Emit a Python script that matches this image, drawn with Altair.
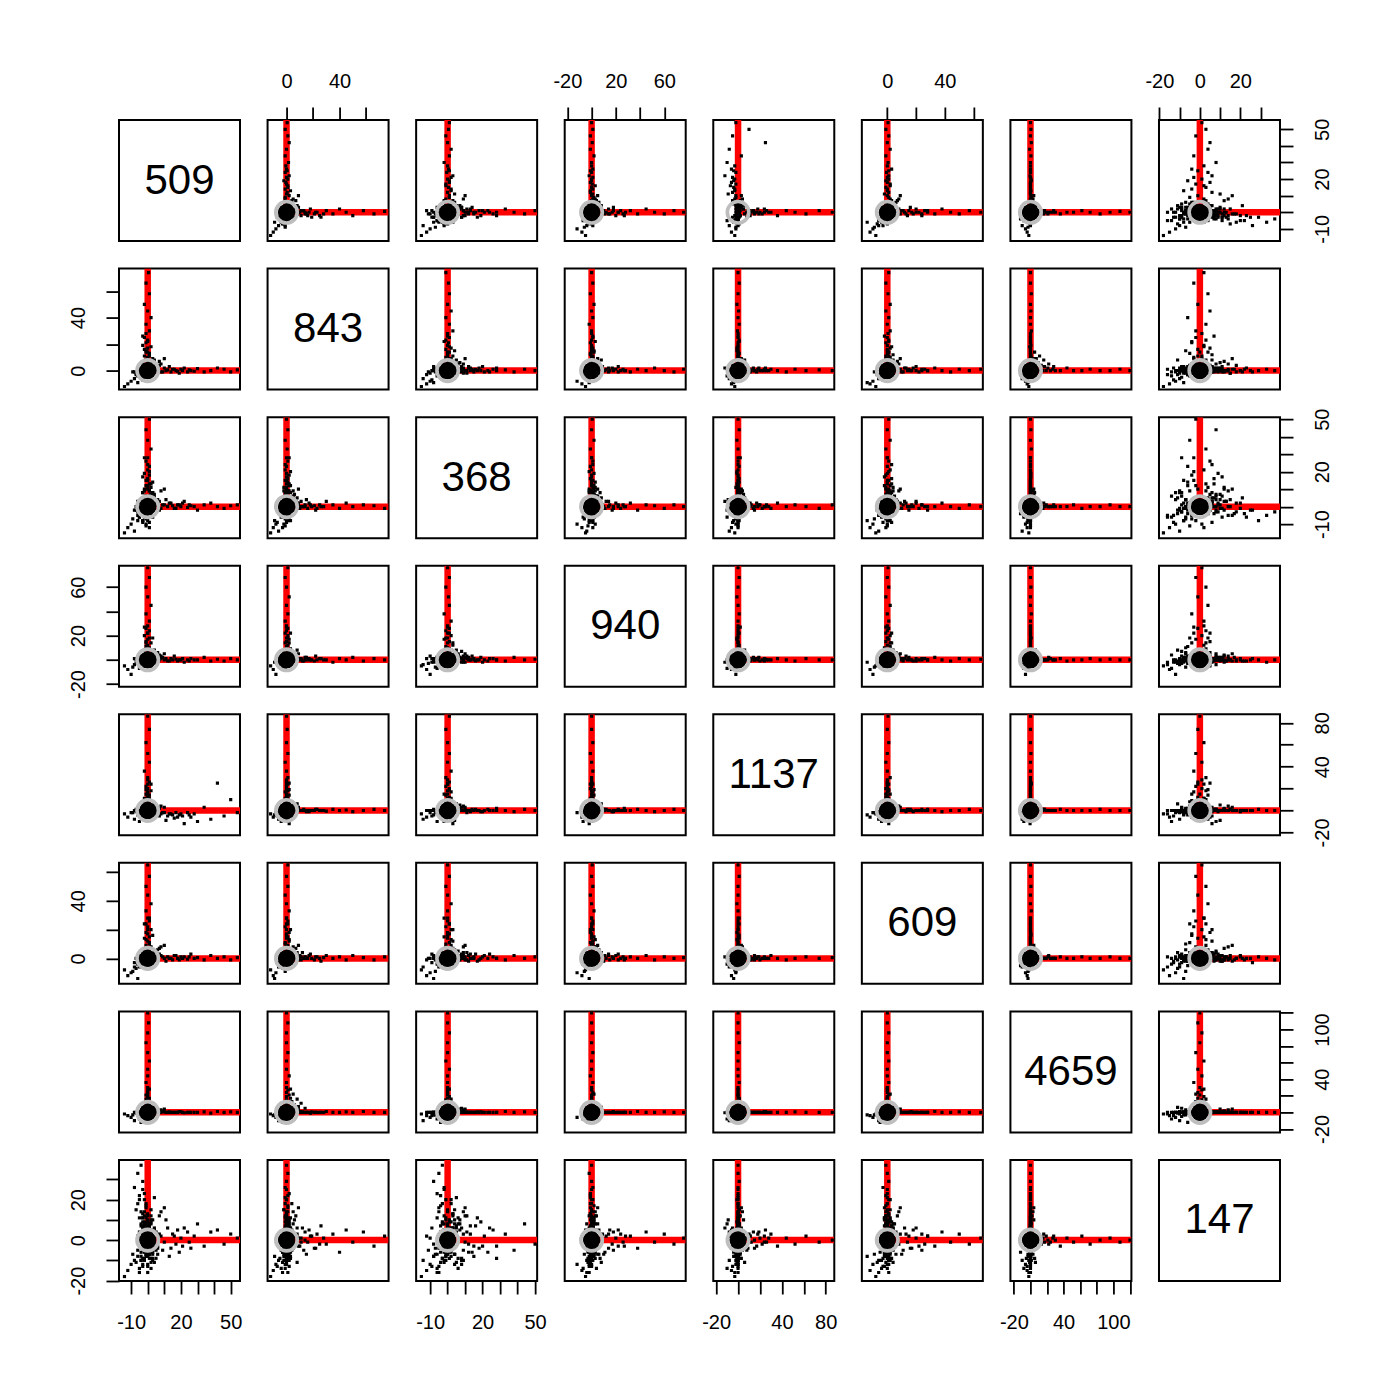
import altair as alt
import pandas as pd

# ---------------- data (observations: v1..v8) ----------------
V1_TAIL = [
    [54, 0.5, 1, 0, -2, 0.5, 0, 1],
    [50, -1, 0.5, 1, 10, -1, 0.5, 3],
    [46, 1, -1, -1, -5, 1, 0, -2],
    [42, 2, 0, 0.5, 25, 0, 1, 5],
    [38, 0, 2, -1, -8, 2, -1, 4],
    [34, -1, 1, 2, 3, -1, 0.5, -3],
    [30, 1.5, -2, 0, -10, 0.5, 0, 8],
    [26, 0, 0.5, 1, -6, 3, 0, -4],
    [22, 2, 3, -2, -12, 1, -0.5, 6],
    [19, -2, 1, 0, -4, -1, 1, -6],
    [16, 1, -1, 3, -7, 2, 0, 2],
    [13, 3, 2, -1, -3, 0, 0.5, -8],
    [11, 0, 4, 1, -9, -2, 0, 10],
    [9, -1, 1, 2, -2, 1, 1, -5],
    [7, 4, -2, 0, -5, 3, 0, 3],
]
V1_MID = [
    [28, -0.5, 0, 0, -3, 0, 0, 2],
    [25, 0.5, 1, -1, -4, 1, 0, -1],
    [24, -1, -0.5, 0, -2, -0.5, 0, 4],
    [21, 0, 2, 1, -5, 0, 0, -3],
    [20, 1, 0, 0, -3, 1, 0.5, 1],
    [18, -0.5, 1, -1, -6, 0, 0, 5],
    [17, 0, -1, 0.5, -2, 2, 0, -2],
    [15, 1, 0.5, 0, -4, -1, 0, 3],
    [14, -1, 2, 1, -3, 0, 0, -4],
    [12, 0.5, 0, -1, -5, 1, 0, 6],
    [10, 2, 1, 0, -2, 0, 0.5, -1],
    [8, -1, -1, 1, -3, 2, 0, 2],
    [6, 1, 2, 0, -1, -1, 0, -3],
    [5, 0, 1, 2, -4, 1, 0, 4],
    [4, 2, -1, -1, -2, 0, 0, -2],
]
V2_TAIL = [
    [0.5, 74, -1, 0, 0, 1, 0, 2],
    [-1, 66, 0.5, 1, 1, -1, 0, -3],
    [1, 58, 1, -1, 0, 0.5, 1, 4],
    [-2, 50, 0, 2, -1, 2, 0, -1],
    [0, 45, 2, 0, 0.5, -1, 0.5, 5],
    [2, 40, -1, 1, 0, 1, 0, -6],
    [-1, 35, 1, -2, 1, 0, 0, 3],
    [1, 30, 3, 0, -0.5, 2, 1, -2],
    [-3, 26, 0, 1, 0, -2, 0, 7],
    [0, 22, -2, 3, 1, 1, 0, -4],
    [2, 18, 1, 0, 0, 3, -1, 2],
    [-1, 15, 4, 2, -1, 0, 0, -7],
    [1, 12, 0, -1, 0, 4, 0.5, 6],
    [3, 9, 2, 1, 1, -1, 0, -3],
]
V2_MID = [
    [-1, 28, 0, 0, 0, 0.5, 0, 1],
    [-2, 25, 1, 1, 0, 0, 0, -2],
    [0, 23, -1, 0, 1, 1, 0, 3],
    [-1, 21, 0.5, -1, 0, -1, 0, -4],
    [-3, 19, 0, 0, 0, 0, 0.5, 2],
    [0, 17, 2, 1, -1, 2, 0, 5],
    [-2, 16, -1, 0, 0, 0, 0, -1],
    [-1, 14, 1, 2, 0, 1, 0, 4],
    [1, 13, 0, -1, 1, 0, 0, -5],
    [-2, 11, 3, 0, 0, -1, 0, 1],
    [0, 10, -1, 1, 0, 2, 1, -3],
    [-1, 8, 1, 0, -1, 0, 0, 6],
    [2, 7, 0, 3, 0, 1, 0, -2],
    [-3, 6, 2, -1, 0, 0, 0, 3],
    [0, 5, -2, 1, 1, 3, 0, -4],
]
V3_TAIL = [
    [1, 0, 50, 0.5, 0, 1, 0, -2],
    [-1, 1, 44, 0, 1, 0, 0.5, 8],
    [0, -1, 38, 2, -1, 2, 0, -5],
    [2, 0.5, 33, -1, 0, -1, 1, 3],
    [-2, 2, 28, 0, 2, 0, 0, -9],
    [0, -1, 24, 1, 0, 3, 0, 6],
    [1, 3, 20, -2, -1, 1, 0, -3],
    [-3, 0, 17, 0, 0, -2, 0.5, 11],
    [3, 1, 14, 3, 1, 0, 0, -6],
    [0, -2, 11, 1, -2, 4, 0, 4],
    [-2, 2, 9, -1, 0, 2, 1, -10],
    [2, 0, 7, 2, 1, -1, 0, 8],
]
V3_MID = [
    [0, 0, 28, 0, 0, 0, 0, -3],
    [-1, 1, 26, 1, 0, 1, 0, 5],
    [1, 0, 23, -1, 1, 0, 0, -6],
    [0, -1, 21, 0, 0, 2, 0, 2],
    [-2, 0, 19, 2, -1, 0, 0.5, 9],
    [1, 2, 18, 0, 0, -1, 0, -4],
    [0, 1, 16, -1, 1, 3, 0, 7],
    [-1, -1, 15, 1, 0, 1, 0, -8],
    [2, 0, 13, 0, -1, 0, 0, 3],
    [-1, 2, 12, 2, 0, 2, 0, -2],
    [0, 0, 10, -2, 1, -1, 0, 12],
    [1, -2, 9, 0, 0, 4, 0, -5],
    [-3, 1, 8, 1, 0, 0, 0, 6],
    [2, 0, 6, 3, -1, 2, 0, -9],
    [0, 3, 5, 0, 0, 1, 0.5, 4],
]
V4_TAIL = [
    [0, 1, 0, 76, 0, 0.5, 0, 1],
    [1, -1, 1, 68, 1, 0, 0, -2],
    [-1, 0, -1, 60, 0, 1, 0.5, 3],
    [0, 2, 0.5, 52, -1, -1, 0, -1],
    [2, 0, 1, 45, 0, 2, 0, 4],
    [-1, 1, -2, 38, 1, 0, 1, -4],
    [1, -1, 2, 32, 0, 1, 0, 2],
    [-2, 0, 0, 27, 2, -1, 0, -3],
    [0, 3, 1, 22, 0, 3, 0, 5],
    [3, 1, -1, 18, -1, 0, 0.5, -5],
    [-1, 2, 3, 14, 0, 2, 0, 3],
    [1, 0, 0, 10, 1, -2, 0, -7],
]
V4_MID = [
    [0, 0, 0, 28, 0, 0, 0, 2],
    [-1, 1, 1, 26, 0, 1, 0, -1],
    [1, 0, -1, 24, 0, 0, 0, 3],
    [0, -1, 0, 22, 1, -1, 0, -3],
    [-2, 1, 2, 20, 0, 2, 0, 1],
    [1, 0, 0, 18, 0, 0, 0.5, 4],
    [0, 2, -2, 17, -1, 1, 0, -2],
    [-1, 0, 1, 15, 0, -1, 0, 5],
    [2, -1, 0, 14, 0, 3, 0, -4],
    [0, 1, 3, 12, 1, 0, 0, 2],
    [-1, 0, -1, 11, 0, 2, 0, -6],
    [1, 3, 1, 9, 0, -1, 0, 3],
    [-2, 1, 2, 8, -1, 1, 0, -1],
    [0, -2, 0, 6, 0, 4, 0, 5],
    [3, 0, -2, 5, 1, 0, 0, -3],
]
V5_TAIL = [
    [0, 0, 1, 0, 86, 0.5, 0, 0],
    [1, 0.5, -1, 0, 74, 0, 0, -1],
    [-1, 0, 0, 1, 62, 1, 0, 2],
    [0, 1, 1, -1, 52, 0, 0.5, -2],
    [1, -1, 0, 0, 44, -1, 0, 1],
    [-2, 0, 2, 1, 36, 0, 0, -3],
    [0, 1, -1, 0, 30, 2, 0, 3],
    [2, 0, 0, -1, 24, 0, 1, -1],
    [-1, 2, 1, 2, 19, 1, 0, 4],
    [0, 0, -2, 0, 15, -1, 0, -4],
    [1, -1, 2, 1, 11, 0, 0, 2],
    [-3, 1, 0, 0, 8, 2, 0, -5],
]
V5_MID = [
    [0, 0, 0, 0, 28, 0, 0, 1],
    [1, 0, 1, 0, 26, 0, 0, -1],
    [0, 1, 0, 1, 24, 1, 0, 2],
    [-1, 0, -1, 0, 22, 0, 0, -2],
    [0, 0, 1, -1, 20, -1, 0, 1],
    [2, 1, 0, 0, 18, 1, 0, 3],
    [0, -1, 2, 1, 17, 0, 0, -3],
    [-1, 0, 0, 0, 15, 2, 0, 0],
    [1, 2, -1, 2, 14, 0, 0, 4],
    [0, 0, 1, 0, 12, -1, 0, -1],
    [-2, 1, 0, -1, 11, 1, 0, 2],
    [1, 0, 2, 1, 9, 0, 0, -4],
    [0, -1, -1, 0, 8, 3, 0, 1],
    [-1, 2, 0, 2, 6, 0, 0, -2],
    [2, 0, 1, 0, 5, 1, 0, 3],
]
V6_TAIL = [
    [0, 1, 0, 0.5, 0, 65, 0, 1],
    [1, 0, 1, 0, 1, 57, 0, -2],
    [-1, 1, -1, 1, 0, 50, 0.5, 3],
    [0, -1, 0, -1, 0, 44, 0, -1],
    [2, 0, 2, 0, -1, 38, 0, 4],
    [-1, 2, 0, 2, 0, 33, 1, -3],
    [1, 0, -2, 0, 1, 28, 0, 2],
    [-2, 1, 1, 1, 0, 24, 0, -5],
    [0, 3, 3, -1, 0, 20, 0, 6],
    [3, 0, 0, 0, 1, 16, 0.5, -4],
    [-1, 2, 2, 3, -1, 13, 0, 3],
    [1, -1, -1, 1, 0, 10, 0, -7],
]
V6_MID = [
    [0, 0, 0, 0, 0, 28, 0, 2],
    [1, 1, 0, 1, 0, 26, 0, -2],
    [-1, 0, 1, 0, 1, 24, 0, 3],
    [0, -1, -1, 0, 0, 22, 0, -3],
    [2, 0, 2, 1, 0, 20, 0, 1],
    [-1, 2, 0, -1, -1, 18, 0, 5],
    [0, 0, 1, 0, 0, 17, 0.5, -4],
    [1, 1, -2, 2, 0, 15, 0, 2],
    [-2, 0, 0, 0, 1, 14, 0, -1],
    [0, 2, 3, 1, 0, 12, 0, 6],
    [1, -1, 1, -1, 0, 11, 0, -5],
    [-1, 1, 2, 0, 0, 9, 0, 3],
    [2, 0, -1, 3, 0, 8, 0, -2],
    [0, 3, 0, 1, -1, 6, 0, 4],
    [-2, 0, 2, 0, 1, 5, 0, -3],
]
V7_TAIL = [
    [0, 0, 0, 0, 0, 0, 120, 0],
    [0.5, 1, 0, 0, 0, 0, 108, -1],
    [0, 0, 1, 0.5, 0, 1, 96, 1],
    [-1, 0, 0, 0, 1, 0, 84, 0],
    [0, 1, 0, 1, 0, 0, 72, -2],
    [1, 0, -1, 0, 0, 1, 62, 2],
    [0, 0, 1, 0, 0, 0, 52, -1],
    [0, 2, 0, -1, 0, 0, 44, 1],
    [-1, 0, 0, 1, 1, 1, 36, -3],
    [1, 3, 1, 0, 0, 0, 28, 2],
    [0, 5, 0, 2, 0, 2, 22, -2],
    [-1, 8, 2, 0, 1, 0, 16, 3],
    [1, 11, 0, 1, 0, 1, 11, -1],
]
V7_MID = [
    [0, 0, 0, 0, 0, 0, 30, 0],
    [0, 1, 0, 0, 0, 0, 27, 1],
    [0, 0, 0, 1, 0, 0, 24, -1],
    [-1, 2, 0, 0, 0, 1, 21, 0],
    [0, 0, 1, 0, 0, 0, 19, 2],
    [1, 3, 0, 0, 1, 0, 17, -1],
    [0, 0, -1, 0, 0, 0, 15, 1],
    [0, 4, 0, 1, 0, 0, 13, -2],
    [-1, 0, 1, 0, 0, 1, 11, 0],
    [0, 6, 0, 0, 0, 0, 9, 2],
    [1, 0, 0, -1, 1, 0, 8, -1],
    [0, 9, 1, 0, 0, 0, 7, 1],
    [-1, 0, 0, 1, 0, 0, 6, -2],
    [0, 14, 0, 0, 0, 1, 5, 0],
    [1, 0, -1, 0, 0, 0, 4, 1],
]
V8_TAIL = [
    [-4, 0, -3, 0, 0, -1, 0, 37],
    [-6, 1, -5, -2, 0, 0, 0, 33],
    [-3, 0, -8, 0, 1, 1, 0, 29],
    [-8, -1, -2, 1, 0, -3, 0, 26],
    [-2, 2, -6, -1, 0, 0, 0, 23],
    [-5, 0, 2, 0, -1, 2, 0, 20],
    [-1, 1, -4, 2, 0, -1, 0, 17],
    [-7, -2, 0, 0, 1, 0, 0, 15],
    [0, 0, 3, -1, 0, 1, 0, 13],
    [-3, 3, -1, 1, 0, -2, 0, 11],
    [2, -1, 1, 0, 0, 3, 0, 9],
    [-4, 0, 4, 3, 0, 0, 0, 8],
]
V8_MID = [
    [-3, 0, -2, 0, 0, 0, 0, 25],
    [-5, 1, -4, -1, 0, -1, 0, 22],
    [-2, 0, -1, 1, 0, 1, 0, 20],
    [-6, -1, -3, 0, 0, 0, 0, 18],
    [-1, 1, -5, -1, 0, -2, 0, 16],
    [-4, 0, 0, 1, 0, 0, 0, 14],
    [-2, -1, -2, 0, 1, 1, 0, 12],
    [-5, 1, -6, 2, 0, -1, 0, 11],
    [0, 0, 1, -1, 0, 0, 0, 10],
    [-3, 2, -3, 0, 0, 2, 0, 9],
    [-1, 0, 0, 1, 0, -1, 0, 8],
    [-4, -1, -4, 0, 0, 0, 0, 7],
    [1, 1, 2, -1, 0, 1, 0, 6],
    [-2, 0, -1, 2, 0, 0, 0, 5],
    [-3, 2, 1, 0, 0, -2, 0, 4],
]
CORE = [
    [-14, -12, -15, -5, -3, -8, -2, -18],
    [-12, -10, -12, -8, -6, -12, -4, -15],
    [-10, -8, -10, -12, -2, -10, -6, -12],
    [-8, -6, -14, -4, -8, -6, -10, -10],
    [-6, -9, -8, -2, -4, -14, -3, -8],
    [-5, -4, -6, -7, -10, -4, -8, -14],
    [-4, -3, -4, -3, -2, -5, -12, -6],
    [-3, -5, -3, -1, -1, -3, -5, -9],
    [-2, -2, -5, -5, -3, -2, -2, -4],
    [-7, -3, -2, -3, -1, -7, -1, -11],
    [-9, -1, -7, -6, -2, -9, -3, -7],
    [-3, -7, -9, -2, -5, -3, -4, -13],
    [2, 1, 3, 2, 1, 2, 1, 4],
    [3, 2, -2, 4, 2, 3, 2, -3],
    [4, 3, 5, 1, 3, 4, 1, 6],
    [5, 4, 2, 3, 4, 1, 2, -5],
    [1, 5, 6, 5, 1, 5, 1, 8],
    [6, 2, 4, 6, 2, 6, 3, -7],
    [2, 6, 7, 2, 5, 2, 4, 10],
    [7, 7, 3, 4, 2, 7, 2, 12],
    [3, 3, 8, 7, 3, 3, 5, -9],
    [8, 5, 9, 3, 4, 8, 3, 14],
    [4, 8, 5, 8, 6, 4, 6, -11],
    [10, 9, 10, 5, 3, 9, 4, 16],
    [-1, 4, -2, 3, -1, 2, 0, 5],
    [1, -3, 2, -2, 2, -1, 1, -6],
    [-2, 2, 1, -1, 0, 1, -1, 3],
    [2, -1, -1, 2, -2, -2, 0, -2],
]
CORE2 = [
    [1, 0, -1, 0, 0, 1, 0, -3],
    [-1, -1, 0, 1, -1, 0, 0, -5],
    [0, 1, 1, -1, 0, -1, 0, 2],
    [-2, -1, -2, 0, 0, -2, -1, -6],
    [1, 2, 0, 1, 1, 0, 0, -1],
    [-1, 0, 2, -2, 0, 1, 0, 1],
    [0, -2, -1, 0, -1, -1, 0, -8],
    [2, 0, 1, 1, 0, 2, 1, 0],
    [-3, -2, -3, -1, -1, -3, -1, -4],
    [0, 1, -2, 2, 0, 0, 0, 3],
    [1, -1, 3, 0, 1, -1, 0, -2],
    [-1, 1, 0, -1, 0, 2, 0, -7],
    [3, 0, -1, 1, -1, 0, 0, 1],
    [-4, -2, -1, -2, -2, -4, -2, -10],
    [0, 0, 4, 0, 0, 1, 0, -12],
    [-2, 3, 0, 0, 1, -1, 0, -3],
    [2, -2, -3, 3, 0, 0, 0, 2],
    [-1, 0, 1, -3, -1, 3, 0, -1],
    [-5, -3, -5, -4, -3, -6, -2, -16],
    [-6, -4, -1, -1, -1, -2, -1, -5],
]
CORE3 = [
    [0, 0, 2, 0, 0, 0, 0, 9],
    [1, 0, -3, 0, 0, 1, 0, -9],
    [-2, 1, 5, 1, 0, 0, 0, 7],
    [2, 0, -4, -1, 0, -1, 0, -11],
    [-1, -1, 6, 0, 0, 2, 0, 11],
    [3, 1, -6, 2, 0, 0, 0, -7],
    [-3, 0, 3, -1, 0, 1, 0, 13],
    [0, 2, -5, 0, 0, -2, 0, -13],
    [4, 0, 7, 1, 0, 0, 0, 5],
    [-4, -1, -2, 0, 0, 1, 0, -10],
    [1, 1, 9, -2, 0, 0, 0, 3],
    [-1, 0, -7, 1, 0, -1, 0, -4],
    [2, -2, 4, 0, 1, 2, 0, 15],
    [0, 1, -8, -1, 0, 0, 0, -8],
    [-2, 0, 10, 2, 0, 1, 0, -1],
    [3, 2, -1, 0, 0, -1, 0, 10],
    [-3, -1, 8, -2, 0, 0, 0, -12],
    [1, 0, -9, 1, 0, 3, 0, 6],
    [0, 3, 12, 0, 0, -2, 0, -6],
    [-1, -2, -10, 3, 0, 0, 0, 1],
    [5, 0, 1, -3, 1, 1, 0, -9],
    [-5, 1, -4, 0, 0, -3, 0, 4],
    [2, -1, 6, 4, 0, 0, 0, -14],
    [-2, 2, -3, -4, 0, 4, 0, 8],
    [0, 0, 15, 0, 0, 0, 0, -3],
    [1, -3, -12, 1, 0, -1, 0, 2],
    [-1, 4, 2, -1, 0, 0, 0, 18],
    [6, 0, -2, 2, 0, 2, 0, -4],
    [-6, -2, 3, 0, 0, -4, 0, 2],
    [0, 1, -6, -2, 0, 1, 0, -16],
    [2, 0, 11, 3, 0, -1, 0, 12],
    [-3, 3, -8, 1, 0, 2, 0, -2],
    [4, -1, 5, -1, 0, 0, 0, 21],
    [-4, 0, -1, 2, 0, -2, 0, -8],
    [1, 2, 13, 0, 0, 3, 0, 7],
    [-1, -1, -11, -3, 0, 0, 0, -5],
    [3, 0, 8, 1, 0, 1, 0, -10],
    [-2, 1, -5, 0, 0, -1, 0, 14],
    [0, -2, 4, 5, 0, 0, 0, -7],
    [2, 0, -2, -5, 0, 2, 0, 5],
]

DIAG = [509, 843, 368, 940, 1137, 609, 4659, 147]

DOMAINS = [(-17.3, 55.6), (-14.3, 77.0), (-18.0, 51.2), (-22.2, 77.7),
           (-22.6, 87.8), (-17.7, 66.4), (-24.2, 121.8), (-20.2, 39.6)]
TICKS = [
    [-10, 0, 10, 20, 30, 40, 50],
    [0, 20, 40, 60],
    [-10, 0, 10, 20, 30, 40, 50],
    [-20, 0, 20, 40, 60],
    [-20, 0, 20, 40, 60, 80],
    [0, 20, 40, 60],
    [-20, 0, 20, 40, 60, 80, 100, 120],
    [-20, -10, 0, 10, 20, 30],
]
LABELS = [
    [-10, 20, 50],
    [0, 40],
    [-10, 20, 50],
    [-20, 20, 60],
    [-20, 40, 80],
    [0, 40],
    [-20, 40, 100],
    [-20, 0, 20],
]
NO_DOT = [(1, 5)]

rows = (V1_TAIL + V1_MID + V2_TAIL + V2_MID + V3_TAIL + V3_MID + V4_TAIL + V4_MID
        + V5_TAIL + V5_MID + V6_TAIL + V6_MID + V7_TAIL + V7_MID + V8_TAIL + V8_MID
        + CORE + CORE2 + CORE3)
cols = [f"v{k}" for k in range(1, 9)]
df = pd.DataFrame(rows, columns=cols)
origin = pd.DataFrame({"x": [0.0], "y": [0.0]})

FONT = "Liberation Sans"
W = 121
GAP = 27.57


def make_axis(k, orient):
    if orient is None:
        return None
    labs = ",".join(str(v) for v in LABELS[k])
    kw = dict(
        orient=orient, values=TICKS[k],
        labelExpr=f"indexof([{labs}], datum.value) >= 0 ? '' + datum.value : ''",
        tickSize=13, tickWidth=1.8, tickColor="black", labelColor="black",
        labelFont=FONT, labelFontSize=20, domain=False, grid=False, title=None,
        labelFlush=False, labelOverlap=False, labelBound=False,
    )
    if orient == "bottom":
        kw.update(labelPadding=19, labelAlign="center", labelBaseline="top", labelAngle=0)
    elif orient == "top":
        kw.update(labelPadding=16, labelAlign="center", labelBaseline="bottom", labelAngle=0)
    elif orient == "left":
        kw.update(labelPadding=18, labelAlign="center", labelBaseline="bottom", labelAngle=270)
    else:
        kw.update(labelPadding=20, labelAlign="center", labelBaseline="top", labelAngle=270)
    return alt.Axis(**kw)


def scale(k):
    return alt.Scale(domain=list(DOMAINS[k]), nice=False, zero=False)


panels = []
for i in range(8):          # row -> y variable
    for j in range(8):      # column -> x variable
        if i == j:
            lo_x, hi_x = DOMAINS[j]
            lo_y, hi_y = DOMAINS[i]
            tdf = pd.DataFrame({"x": [(lo_x + hi_x) / 2], "y": [(lo_y + hi_y) / 2],
                                "t": [str(DIAG[i])]})
            p = alt.Chart(tdf).mark_text(font=FONT, fontSize=42, color="black",
                                         align="center", baseline="middle").encode(
                x=alt.X("x:Q", scale=scale(j), axis=None),
                y=alt.Y("y:Q", scale=scale(i), axis=None),
                text="t:N",
            ).properties(width=W, height=W)
            panels.append(p)
            continue

        xo = None
        if i == 7 and j % 2 == 0:
            xo = "bottom"
        elif i == 0 and j % 2 == 1:
            xo = "top"
        yo = None
        if j == 0 and i % 2 == 1:
            yo = "left"
        elif j == 7 and i % 2 == 0:
            yo = "right"
        ax_x = make_axis(j, xo)
        ax_y = make_axis(i, yo)

        X = lambda f: alt.X(f, type="quantitative", scale=scale(j), axis=ax_x)
        Y = lambda f: alt.Y(f, type="quantitative", scale=scale(i), axis=ax_y)

        rdf = pd.DataFrame({"x": [0.0, 0.0], "y": [0.0, 0.0],
                            "x2": [0.0, DOMAINS[j][1]], "y2": [DOMAINS[i][1], 0.0]})
        rules = alt.Chart(rdf).mark_rule(color="#ff0000", strokeWidth=6.5,
                                         strokeCap="butt", clip=True).encode(
            x=X("x"), y=Y("y"), x2="x2:Q", y2="y2:Q")
        pts = alt.Chart(df).mark_square(size=10, color="black", opacity=1,
                                        clip=True).encode(
            x=X(cols[j]), y=Y(cols[i]))
        layers = [rules, pts]
        if (i + 1, j + 1) not in NO_DOT:
            dot = alt.Chart(origin).mark_circle(size=300, color="black", opacity=1).encode(
                x=X("x"), y=Y("y"))
            layers.append(dot)
        ring = alt.Chart(origin).mark_point(shape="circle", size=460, filled=False,
                                            color="#bebebe", strokeWidth=3.6,
                                            opacity=1).encode(x=X("x"), y=Y("y"))
        layers.append(ring)
        panels.append(alt.layer(*layers).properties(width=W, height=W))

chart = alt.concat(*panels, columns=8, spacing=GAP, bounds="flush").properties(
    padding={"left": 66, "top": 70, "right": 5, "bottom": 5},
    background="white",
).configure_view(stroke="black", strokeWidth=2)

chart.save("out.html", embed_options={"renderer": "svg", "actions": False})
